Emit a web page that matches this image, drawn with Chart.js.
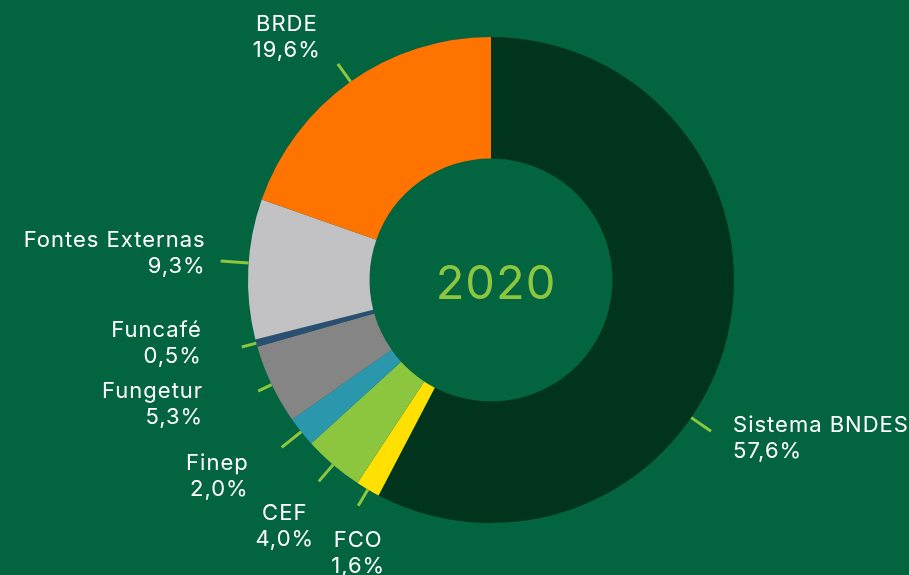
<!DOCTYPE html>
<html>
<head>
<meta charset="utf-8">
<script src="https://cdn.jsdelivr.net/npm/chart.js@4.4.1/dist/chart.umd.min.js"></script>
<style>
  html, body { margin: 0; padding: 0; background: #02653f; }
  #wrap { width: 909px; height: 575px; position: relative; }
</style>
</head>
<body>
<div id="wrap"><canvas id="chart"></canvas></div>
<script>
// Data
const labels = ['Sistema BNDES', 'FCO', 'CEF', 'Finep', 'Fungetur', 'Funcafé', 'Fontes Externas', 'BRDE'];
const shares = [57.6, 1.6, 4.0, 2.0, 5.3, 0.5, 9.3, 19.6];
const centerLabel = '2020';

const colors = ['#00341c', '#ffe000', '#8cc63e', '#2b97ad', '#858585', '#2b4f72', '#c2c2c4', '#ff7300'];

// label placement: leader end radius, text offset from leader end, alignment
const layout = [
  { angle: 124.5, r1: 267, dx: 22, dy: -6, align: 'left' },
  { r1: 262, dx: 0, dy: 35, align: 'center' },
  { r1: 265, dx: -34, dy: 32, align: 'center' },
  { r1: 268, dx: -33, dy: 16, align: 'right' },
  { r1: 258, dx: -55, dy: 0, align: 'right' },
  { r1: 258, dx: -40, dy: -17, align: 'right' },
  { angle: 274, r1: 271, dx: -15, dy: -21, align: 'right' },
  { r1: 265, dx: -51, dy: -39, align: 'center' }
];

const FONT = '"Inter", "Roboto", sans-serif';

const fmt = v => v.toFixed(1).replace('.', ',') + '%';

const labelPlugin = {
  id: 'leaderLabels',
  afterDraw(chart) {
    const ctx = chart.ctx;
    const arcs = chart.getDatasetMeta(0).data;
    ctx.save();
    arcs.forEach((arc, i) => {
      const p = arc.getProps(['x', 'y', 'startAngle', 'endAngle', 'outerRadius'], true);
      const L = layout[i];
      let a = (p.startAngle + p.endAngle) / 2;
      if (L.angle != null) a = (L.angle - 90) * Math.PI / 180;
      const x0 = p.x + Math.cos(a) * p.outerRadius;
      const y0 = p.y + Math.sin(a) * p.outerRadius;
      const x1 = p.x + Math.cos(a) * L.r1;
      const y1 = p.y + Math.sin(a) * L.r1;
      ctx.strokeStyle = '#8dc63f';
      ctx.lineWidth = 3;
      ctx.beginPath();
      ctx.moveTo(x0, y0);
      ctx.lineTo(x1, y1);
      ctx.stroke();

      ctx.fillStyle = '#ffffff';
      ctx.font = '400 22px ' + FONT;
      ctx.letterSpacing = '1px';
      ctx.textAlign = L.align;
      ctx.textBaseline = 'middle';
      const tx = x1 + L.dx, ty = y1 + L.dy;
      ctx.fillText(labels[i], tx, ty);
      ctx.fillText(fmt(shares[i]), tx, ty + 26);
    });
    // centre year
    const c = arcs[0];
    ctx.fillStyle = '#8dc63f';
    ctx.font = '400 47px ' + FONT;
    ctx.letterSpacing = '1px';
    ctx.textAlign = 'center';
    ctx.textBaseline = 'middle';
    ctx.fillText(centerLabel, c.x + 5, c.y + 5);
    ctx.restore();
  }
};

new Chart(document.getElementById('chart'), {
  type: 'doughnut',
  data: {
    labels: labels,
    datasets: [{
      data: shares,
      backgroundColor: colors,
      borderWidth: 0
    }]
  },
  options: {
    responsive: true,
    maintainAspectRatio: false,
    animation: false,
    cutout: '50%',
    layout: { padding: { top: 37, bottom: 52, left: 248, right: 175 } },
    plugins: {
      legend: { display: false },
      tooltip: { enabled: false }
    }
  },
  plugins: [labelPlugin]
});
</script>
</body>
</html>
